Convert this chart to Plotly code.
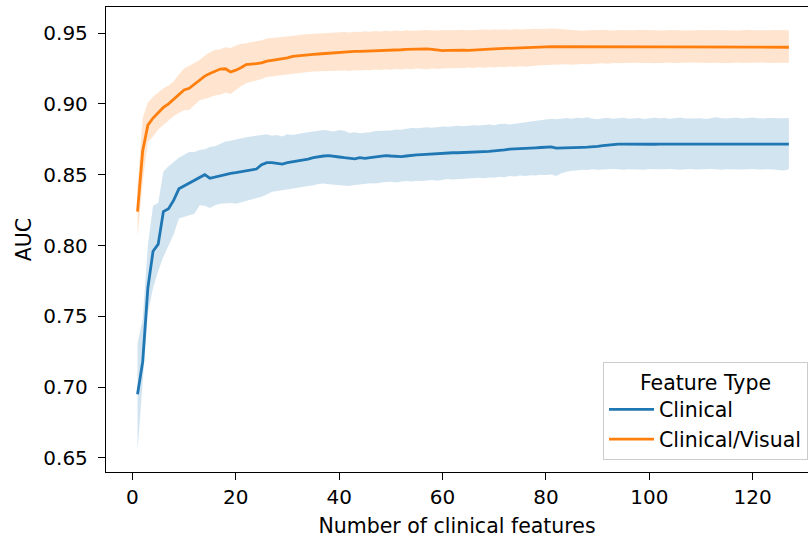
import plotly.graph_objects as go

x_vals = list(range(1, 128))

clinical_mean = [
    0.695, 0.718, 0.770, 0.796, 0.801, 0.824, 0.826, 0.832, 0.840, 0.842,
    0.844, 0.846, 0.848, 0.850, 0.8475, 0.8485, 0.849, 0.8505, 0.851, 0.8515,
    0.852, 0.853, 0.8533, 0.854, 0.857, 0.8585, 0.8585, 0.858, 0.8575, 0.8585,
    0.859, 0.8595, 0.860, 0.861, 0.862, 0.8628, 0.8632, 0.8635, 0.8632, 0.8625,
    0.862, 0.8615, 0.8612, 0.862, 0.8615, 0.862, 0.8625, 0.8632, 0.8635, 0.8632,
    0.863, 0.8628, 0.8632, 0.8638, 0.864, 0.8642, 0.8645, 0.8648, 0.865, 0.8652,
    0.8652, 0.8655, 0.8655, 0.8656, 0.8657, 0.8658, 0.866, 0.8662, 0.8665, 0.8668,
    0.867, 0.8675, 0.868, 0.8683, 0.8685, 0.8687, 0.8688, 0.869, 0.8692, 0.8695,
    0.8697, 0.8688, 0.869, 0.8692, 0.8692, 0.8693, 0.8693, 0.8694, 0.8695, 0.870,
    0.8705, 0.871, 0.8713, 0.8716, 0.8716, 0.8715, 0.8714, 0.8714, 0.8714, 0.8715,
    0.8715, 0.8716, 0.8716, 0.8716, 0.8716, 0.8716, 0.8716, 0.8716, 0.8716, 0.8716,
    0.8716, 0.8716, 0.8716, 0.8716, 0.8716, 0.8716, 0.8716, 0.8716, 0.8716, 0.8716,
    0.8716, 0.8716, 0.8716, 0.8716, 0.8716, 0.8716, 0.8716,
]

clinical_hi = [
    0.731, 0.748, 0.800, 0.828, 0.830, 0.852, 0.856, 0.859, 0.862, 0.864,
    0.866, 0.866, 0.8675, 0.868, 0.8695, 0.870, 0.872, 0.8735, 0.874, 0.875,
    0.8755, 0.8765, 0.877, 0.8775, 0.878, 0.8785, 0.8775, 0.878, 0.877, 0.8785,
    0.878, 0.879, 0.8795, 0.880, 0.8805, 0.881, 0.8815, 0.881, 0.8805, 0.8815,
    0.881, 0.8795, 0.880, 0.8792, 0.8795, 0.880, 0.8808, 0.881, 0.8815, 0.8812,
    0.882, 0.8818, 0.8825, 0.883, 0.8828, 0.8832, 0.8835, 0.8832, 0.8838, 0.884,
    0.8838, 0.8842, 0.8845, 0.8842, 0.8848, 0.885, 0.8848, 0.8852, 0.8855, 0.885,
    0.8858, 0.886, 0.8855, 0.886, 0.8865, 0.887, 0.8872, 0.888, 0.8885, 0.889,
    0.8895, 0.8892, 0.8898, 0.890, 0.8895, 0.8902, 0.8898, 0.8905, 0.8895, 0.8892,
    0.8898, 0.890, 0.8895, 0.8898, 0.8902, 0.8895, 0.8898, 0.890, 0.8893, 0.8897,
    0.8902, 0.8898, 0.890, 0.8895, 0.8899, 0.8903, 0.8896, 0.8898, 0.8901, 0.8899,
    0.8894, 0.8898, 0.8905, 0.8899, 0.8896, 0.890, 0.8902, 0.8897, 0.8899, 0.8903,
    0.8898, 0.8896, 0.8901, 0.8899, 0.8902, 0.8898, 0.890,
]

clinical_lo = [
    0.655, 0.703, 0.752, 0.770, 0.782, 0.792, 0.800, 0.808, 0.819, 0.820,
    0.821, 0.8225, 0.8285, 0.828, 0.8265, 0.8285, 0.8295, 0.8298, 0.830, 0.8295,
    0.8305, 0.831, 0.832, 0.833, 0.8345, 0.836, 0.838, 0.8385, 0.839, 0.8398,
    0.840, 0.8405, 0.841, 0.8418, 0.8425, 0.8435, 0.8438, 0.8432, 0.843, 0.8427,
    0.8425, 0.842, 0.8428, 0.8432, 0.8435, 0.844, 0.8438, 0.8445, 0.8448, 0.845,
    0.8445, 0.8452, 0.8455, 0.8452, 0.8458, 0.8455, 0.846, 0.8462, 0.8458, 0.8465,
    0.847, 0.8466, 0.8468, 0.8472, 0.8475, 0.8472, 0.8478, 0.8475, 0.848, 0.8478,
    0.8485, 0.8482, 0.849, 0.8488, 0.8495, 0.849, 0.8497, 0.8495, 0.850, 0.8498,
    0.8502, 0.849, 0.851, 0.852, 0.8528, 0.853, 0.8535, 0.8533, 0.8538, 0.8535,
    0.8538, 0.8536, 0.854, 0.8538, 0.8535, 0.8538, 0.854, 0.8537, 0.8535, 0.854,
    0.8538, 0.8536, 0.8539, 0.8541, 0.8537, 0.8535, 0.8538, 0.854, 0.8536, 0.8539,
    0.8537, 0.8541, 0.8538, 0.8535, 0.8539, 0.8537, 0.854, 0.8536, 0.8538, 0.8541,
    0.8537, 0.8539, 0.8538, 0.8536, 0.8533, 0.853, 0.8538,
]

visual_mean = [
    0.824, 0.867, 0.885, 0.890, 0.8937, 0.8975, 0.900, 0.9032, 0.9062, 0.9098,
    0.911, 0.9138, 0.9168, 0.9196, 0.9215, 0.9228, 0.9246, 0.9248, 0.9225, 0.9238,
    0.9255, 0.9278, 0.928, 0.9284, 0.929, 0.9302, 0.9308, 0.9312, 0.9318, 0.9325,
    0.9335, 0.934, 0.9345, 0.9347, 0.935, 0.9352, 0.9355, 0.936, 0.9362, 0.9364,
    0.9366, 0.9368, 0.937, 0.9371, 0.9372, 0.9372, 0.9373, 0.9375, 0.9376, 0.9378,
    0.938, 0.9382, 0.9385, 0.9387, 0.9389, 0.9389, 0.9388, 0.9385, 0.938, 0.9376,
    0.9378, 0.938, 0.9381, 0.938, 0.9378, 0.9379, 0.938, 0.9383, 0.9386, 0.9388,
    0.939, 0.9392, 0.9393, 0.9394, 0.9395, 0.9396, 0.9398, 0.940, 0.9402, 0.9403,
    0.9404, 0.9404, 0.9404, 0.9404, 0.9403, 0.9402, 0.9401, 0.940, 0.940, 0.940,
    0.9401, 0.9401, 0.940, 0.940, 0.9401, 0.940, 0.940, 0.9401, 0.940, 0.940,
    0.940, 0.9401, 0.940, 0.940, 0.9401, 0.940, 0.940, 0.940, 0.9401, 0.940,
    0.940, 0.940, 0.9401, 0.940, 0.940, 0.940, 0.9401, 0.940, 0.940, 0.940,
    0.940, 0.9401, 0.940, 0.940, 0.940, 0.940, 0.940,
]

visual_hi = [
    0.842, 0.890, 0.901, 0.905, 0.908, 0.911, 0.913, 0.916, 0.921, 0.925,
    0.927, 0.929, 0.931, 0.934, 0.9365, 0.938, 0.9385, 0.940, 0.9395, 0.941,
    0.9425, 0.9428, 0.9435, 0.9442, 0.945, 0.9462, 0.9465, 0.947, 0.9475, 0.9475,
    0.948, 0.9485, 0.949, 0.9492, 0.9495, 0.9498, 0.950, 0.9502, 0.9505, 0.9505,
    0.9508, 0.9504, 0.9510, 0.9507, 0.9512, 0.9509, 0.9514, 0.9511, 0.9516, 0.9513,
    0.9518, 0.9515, 0.9520, 0.9517, 0.9519, 0.9516, 0.9521, 0.9518, 0.9520, 0.9517,
    0.9522, 0.9519, 0.9521, 0.9524, 0.9520, 0.9523, 0.9521, 0.9525, 0.9522, 0.9526,
    0.9523, 0.9527, 0.9524, 0.9528, 0.9526, 0.9529, 0.9527, 0.9530, 0.9528, 0.9531,
    0.9533, 0.9530, 0.9527, 0.9524, 0.9521, 0.9519, 0.9517, 0.9520, 0.9518, 0.9521,
    0.9523, 0.9520, 0.9518, 0.9521, 0.9519, 0.9522, 0.9520, 0.9523, 0.9521, 0.9519,
    0.9522, 0.9520, 0.9518, 0.9521, 0.9523, 0.9520, 0.9518, 0.9521, 0.9519, 0.9522,
    0.9520, 0.9523, 0.9521, 0.9519, 0.9522, 0.9520, 0.9518, 0.9521, 0.9523, 0.9520,
    0.9518, 0.9521, 0.9519, 0.9522, 0.9520, 0.9521, 0.9520,
]

visual_lo = [
    0.806, 0.845, 0.873, 0.877, 0.882, 0.885, 0.888, 0.8915, 0.8935, 0.8955,
    0.8957, 0.899, 0.9025, 0.9035, 0.905, 0.906, 0.9065, 0.908, 0.907, 0.910,
    0.9125, 0.9145, 0.9155, 0.916, 0.9175, 0.919, 0.9195, 0.920, 0.9205, 0.921,
    0.9215, 0.922, 0.9223, 0.9225, 0.9228, 0.923, 0.9232, 0.9235, 0.9234, 0.9234,
    0.9236, 0.9232, 0.9238, 0.9235, 0.9240, 0.9237, 0.9242, 0.9239, 0.9244, 0.9241,
    0.9246, 0.9243, 0.9248, 0.9245, 0.9250, 0.9247, 0.9245, 0.9249, 0.9246, 0.9250,
    0.9252, 0.9249, 0.9254, 0.9251, 0.9256, 0.9253, 0.9258, 0.9255, 0.9260, 0.9257,
    0.9262, 0.9259, 0.9264, 0.9261, 0.9266, 0.9263, 0.9268, 0.9270, 0.9272, 0.9274,
    0.9276, 0.9274, 0.9277, 0.9279, 0.9276, 0.9280, 0.9282, 0.9279, 0.9283, 0.9285,
    0.9287, 0.9284, 0.9288, 0.9286, 0.9289, 0.9287, 0.9290, 0.9288, 0.9291, 0.9289,
    0.9287, 0.9290, 0.9288, 0.9291, 0.9289, 0.9287, 0.9290, 0.9292, 0.9289, 0.9291,
    0.9288, 0.9290, 0.9292, 0.9289, 0.9287, 0.9290, 0.9292, 0.9289, 0.9291, 0.9288,
    0.9290, 0.9292, 0.9289, 0.9291, 0.9290, 0.9288, 0.9291,
]

series_names = ["Clinical", "Clinical/Visual"]
x_ticks = [0, 20, 40, 60, 80, 100, 120]
y_ticks = [0.65, 0.70, 0.75, 0.80, 0.85, 0.90, 0.95]

BLUE = "#1f77b4"
ORANGE = "#ff7f0e"
FONT = "DejaVu Sans"

fig = go.Figure()

for lo, hi, fillc in [
    (clinical_lo, clinical_hi, "rgba(31,119,180,0.2)"),
    (visual_lo, visual_hi, "rgba(255,127,14,0.2)"),
]:
    fig.add_trace(go.Scatter(x=x_vals, y=lo, mode="lines", line=dict(width=0),
                             showlegend=False, hoverinfo="skip"))
    fig.add_trace(go.Scatter(x=x_vals, y=hi, mode="lines", line=dict(width=0),
                             fill="tonexty", fillcolor=fillc,
                             showlegend=False, hoverinfo="skip"))

fig.add_trace(go.Scatter(x=x_vals, y=clinical_mean, mode="lines", name=series_names[0],
                         line=dict(color=BLUE, width=2.8)))
fig.add_trace(go.Scatter(x=x_vals, y=visual_mean, mode="lines", name=series_names[1],
                         line=dict(color=ORANGE, width=2.8)))

axis_common = dict(
    showline=True, linecolor="black", linewidth=1.3,
    ticks="outside", ticklen=7, tickwidth=1.3, tickcolor="black",
    showgrid=False, zeroline=False, automargin=False,
    tickfont=dict(family=FONT, size=20, color="black"),
)

fig.update_layout(
    width=809, height=538,
    margin=dict(l=106, r=1, t=7, b=66),
    paper_bgcolor="white", plot_bgcolor="white",
    font=dict(family=FONT, color="black"),
    xaxis=dict(
        range=[-5.1, 130.7], tickvals=x_ticks, mirror=True,
        title=dict(text="Number of clinical features", font=dict(family=FONT, size=20.5), standoff=16),
        **axis_common,
    ),
    yaxis=dict(
        range=[0.6401, 0.9684], tickvals=y_ticks, tickformat=".2f",
        ticklabelstandoff=6,
        title=dict(text="AUC", font=dict(family=FONT, size=20.5), standoff=6),
        **axis_common,
    ),
    legend=dict(
        title=dict(text="Feature Type", side="top center", font=dict(family=FONT, size=20.5)),
        font=dict(family=FONT, size=20.5, color="black"),
        traceorder="normal", itemwidth=45,
        x=1, xanchor="right", y=0.2366, yanchor="top",
        bgcolor="rgba(255,255,255,0.8)", bordercolor="#cccccc", borderwidth=1,
    ),
)

fig.write_html("out.html")
